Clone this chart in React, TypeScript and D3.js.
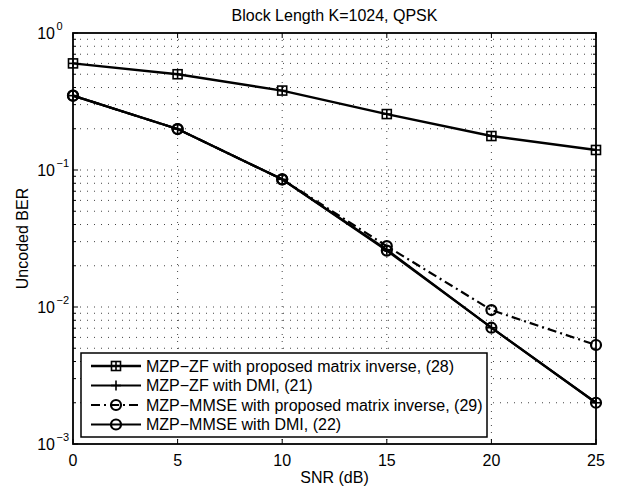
import * as d3 from "d3";

// SNR points (dB)
const snr = [0, 5, 10, 15, 20, 25];
// uncoded BER
const zfProposed = [0.6, 0.5, 0.38, 0.256, 0.177, 0.14];
const zfDmi = [0.349, 0.199, 0.0855, 0.0262, 0.00706, 0.002];
const mmseProposed = [0.349, 0.199, 0.0855, 0.0278, 0.0095, 0.00528];
const mmseDmi = [0.349, 0.199, 0.0855, 0.0258, 0.00706, 0.002];

const xTicks = [0, 5, 10, 15, 20, 25];
const yExponents = [0, -1, -2, -3];
const legendLabels = [
  "MZP\u2212ZF with proposed matrix inverse, (28)",
  "MZP\u2212ZF with DMI, (21)",
  "MZP\u2212MMSE with proposed matrix inverse, (29)",
  "MZP\u2212MMSE with DMI, (22)",
];

const W = 618;
const H = 488;
const left = 73, right = 596, top = 33, bottom = 444;
const font = "'Liberation Sans', Arial, Helvetica, sans-serif";

function Marker({ kind, x, y }: { kind: string; x: number; y: number }) {
  if (kind === "square") {
    const s = 4.5;
    return (
      <g stroke="#000" strokeWidth={1.6} fill="none">
        <rect x={x - s} y={y - s} width={2 * s} height={2 * s} />
        <line x1={x - s} x2={x + s} y1={y} y2={y} />
        <line x1={x} x2={x} y1={y - s} y2={y + s} />
      </g>
    );
  }
  if (kind === "plus") {
    const s = 5;
    return (
      <g stroke="#000" strokeWidth={1.6}>
        <line x1={x - s} x2={x + s} y1={y} y2={y} />
        <line x1={x} x2={x} y1={y - s} y2={y + s} />
      </g>
    );
  }
  return <circle cx={x} cy={y} r={5} fill="none" stroke="#000" strokeWidth={2.2} />;
}

export default function App() {
  const x = d3.scaleLinear().domain([0, 25]).range([left, right]);
  const y = d3.scaleLog().domain([1e-3, 1]).range([bottom, top]);

  const series = [
    { data: zfProposed, marker: "square", dash: undefined as string | undefined, width: 2.4 },
    { data: zfDmi, marker: "plus", dash: undefined, width: 2.2 },
    { data: mmseProposed, marker: "circle", dash: "9,4,2,4", width: 2.2 },
    { data: mmseDmi, marker: "circle", dash: undefined, width: 2.2 },
  ];

  const line = d3
    .line<number>()
    .x((_, i) => x(snr[i]))
    .y((d) => y(d));

  const minor: number[] = [];
  for (let e = -3; e < 0; e++) {
    for (let k = 2; k <= 9; k++) minor.push(k * Math.pow(10, e));
  }

  const lx = 81, ly = 353, lw = 406, lh = 84;
  const rowY = [366, 385.5, 405, 424.5];

  return (
    <svg
      width={W}
      height={H}
      style={{ position: "absolute", left: 0, top: 0, background: "#fff" }}
      fontFamily={font}
    >
      <rect width={W} height={H} fill="#fff" />

      {/* grid */}
      <g stroke="#444" strokeWidth={1} strokeDasharray="1,6">
        {xTicks.slice(1, -1).map((t) => (
          <line key={"gx" + t} x1={x(t)} x2={x(t)} y1={top} y2={bottom} />
        ))}
        {minor.concat(yExponents.slice(1, -1).map((e) => Math.pow(10, e))).map((v) => (
          <line key={"gy" + v} x1={left} x2={right} y1={y(v)} y2={y(v)} />
        ))}
      </g>

      {/* ticks */}
      <g stroke="#000" strokeWidth={1}>
        {xTicks.map((t) => (
          <g key={"tx" + t}>
            <line x1={x(t)} x2={x(t)} y1={bottom} y2={bottom - 5} />
            <line x1={x(t)} x2={x(t)} y1={top} y2={top + 5} />
          </g>
        ))}
        {yExponents.map((e) => (
          <g key={"ty" + e}>
            <line x1={left} x2={left + 5} y1={y(Math.pow(10, e))} y2={y(Math.pow(10, e))} />
            <line x1={right} x2={right - 5} y1={y(Math.pow(10, e))} y2={y(Math.pow(10, e))} />
          </g>
        ))}
        {minor.map((v) => (
          <g key={"tm" + v}>
            <line x1={left} x2={left + 3} y1={y(v)} y2={y(v)} />
            <line x1={right} x2={right - 3} y1={y(v)} y2={y(v)} />
          </g>
        ))}
      </g>

      {/* data */}
      {series.map((s, i) => (
        <g key={"s" + i}>
          <path
            d={line(s.data) || ""}
            fill="none"
            stroke="#000"
            strokeWidth={s.width}
            strokeDasharray={s.dash}
          />
          {s.data.map((d, j) => (
            <Marker key={j} kind={s.marker} x={x(snr[j])} y={y(d)} />
          ))}
        </g>
      ))}

      {/* axes box */}
      <rect
        x={left}
        y={top}
        width={right - left}
        height={bottom - top}
        fill="none"
        stroke="#000"
        strokeWidth={1.8}
      />

      {/* tick labels */}
      <g fontSize={16} fill="#000">
        {xTicks.map((t) => (
          <text key={"lx" + t} x={x(t)} y={466} textAnchor="middle">
            {t}
          </text>
        ))}
        {yExponents.map((e) => (
          <g key={"ly" + e}>
            <text x={55} y={y(Math.pow(10, e)) + 6} textAnchor="end">
              10
            </text>
            <text x={56.5} y={y(Math.pow(10, e)) - 3} fontSize={11}>
              {e === 0 ? "0" : "\u2212" + Math.abs(e)}
            </text>
          </g>
        ))}
      </g>

      {/* titles */}
      <text x={(left + right) / 2} y={21} textAnchor="middle" fontSize={16}>
        Block Length K=1024, QPSK
      </text>
      <text x={(left + right) / 2} y={483} textAnchor="middle" fontSize={16}>
        SNR (dB)
      </text>
      <text
        transform={`translate(28,${(top + bottom) / 2}) rotate(-90)`}
        textAnchor="middle"
        fontSize={16}
      >
        Uncoded BER
      </text>

      {/* legend */}
      <rect x={lx} y={ly} width={lw} height={lh} fill="#fff" stroke="#000" strokeWidth={1.5} />
      {series.map((s, i) => (
        <g key={"lg" + i}>
          <line
            x1={91}
            x2={141}
            y1={rowY[i]}
            y2={rowY[i]}
            stroke="#000"
            strokeWidth={s.width}
            strokeDasharray={s.dash}
          />
          <Marker kind={s.marker} x={116} y={rowY[i]} />
          <text x={146} y={rowY[i] + 5.5} fontSize={16}>
            {legendLabels[i]}
          </text>
        </g>
      ))}
    </svg>
  );
}
